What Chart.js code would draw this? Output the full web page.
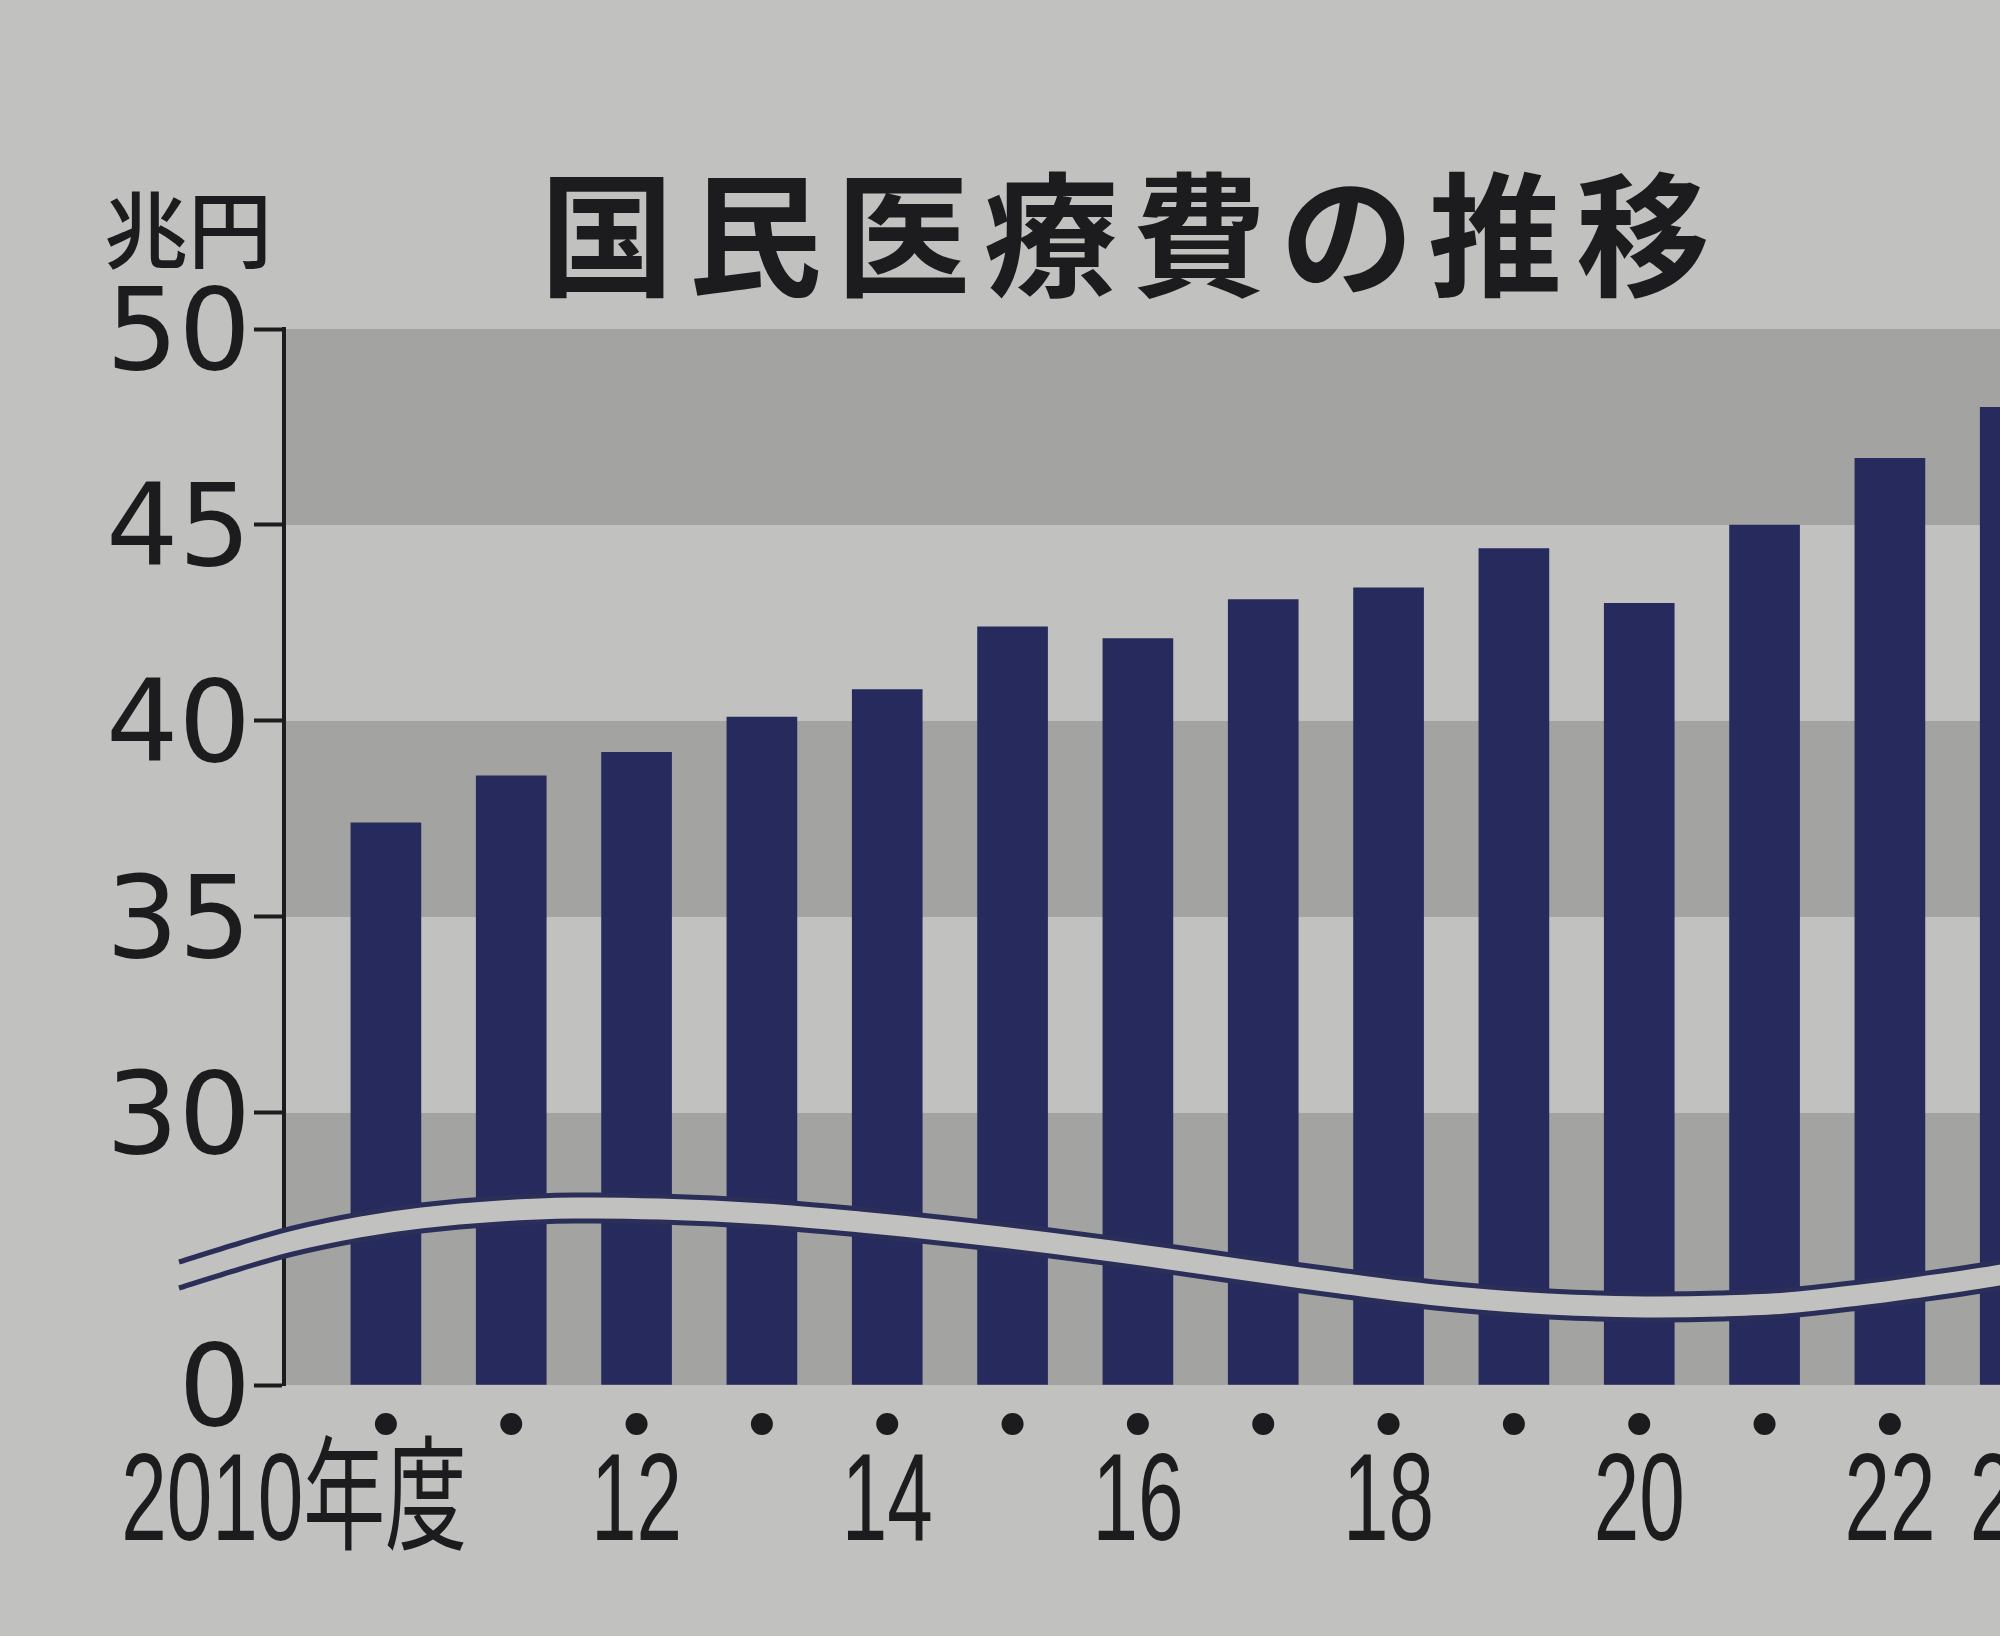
<!DOCTYPE html>
<html lang="ja">
<head>
<meta charset="utf-8">
<title>国民医療費の推移</title>
<script src="https://cdn.jsdelivr.net/npm/chart.js@4.4.1/dist/chart.umd.min.js"></script>
<style>
  html, body { margin: 0; padding: 0; background: #c1c1bf; overflow: hidden; }
  #wrap { width: 2000px; height: 1636px; overflow: hidden; }
  canvas { display: block; }
</style>
</head>
<body>
<div id="wrap"><canvas id="chart" width="2170" height="1636"></canvas></div>
<script>
// 国民医療費（兆円）、年度ごと
const years = [2010, 2011, 2012, 2013, 2014, 2015, 2016, 2017, 2018, 2019, 2020, 2021, 2022, 2023];
const costs = [37.4, 38.6, 39.2, 40.1, 40.8, 42.4, 42.1, 43.1, 43.4, 44.4, 43.0, 45.0, 46.7, 48.0];
const yearLabels = ['2010年度', '', '12', '', '14', '', '16', '', '18', '', '20', '', '22', '23'];

// y軸は 0〜30 を省略（波線）している
const yTickValues = [0, 30, 35, 40, 45, 50];
const yTickLabels = ['0', '30', '35', '40', '45', '50'];
const AXIS_BOTTOM = 23.06; // "0" を置く位置（省略後の目盛り値）

const PAPER = '#c1c1bf';
const BAND_DARK = '#a3a3a1';
const BAR_COLOR = '#262a5c';
const INK = '#1c1c1e';
const WAVE_LINE = '#2a2e58';

const darkBands = [[AXIS_BOTTOM, 30], [35, 40], [45, 50]];

// 省略を示す波線（上側の線）
const wavePoints = [
  [179, 1262], [240, 1243], [293, 1228], [360, 1214], [421, 1205], [500, 1198],
  [574, 1195], [660, 1196], [765, 1201], [860, 1209], [957, 1219], [1050, 1230],
  [1148, 1243], [1245, 1257], [1339, 1270], [1435, 1282], [1531, 1290], [1600, 1293],
  [1658, 1294], [1720, 1293], [1786, 1290], [1860, 1282], [1913, 1275], [2000, 1262], [2080, 1245]
];

function smoothPath(ctx, pts, dy) {
  ctx.moveTo(pts[0][0], pts[0][1] + dy);
  for (let i = 0; i < pts.length - 1; i++) {
    const p0 = pts[Math.max(i - 1, 0)], p1 = pts[i], p2 = pts[i + 1], p3 = pts[Math.min(i + 2, pts.length - 1)];
    ctx.bezierCurveTo(
      p1[0] + (p2[0] - p0[0]) / 6, p1[1] + (p2[1] - p0[1]) / 6 + dy,
      p2[0] - (p3[0] - p1[0]) / 6, p2[1] - (p3[1] - p1[1]) / 6 + dy,
      p2[0], p2[1] + dy
    );
  }
}

const paperBands = {
  id: 'paperBands',
  beforeDraw(chart) {
    const { ctx, chartArea: a, scales: { y } } = chart;
    ctx.save();
    ctx.fillStyle = PAPER;
    ctx.fillRect(0, 0, chart.width, chart.height);
    ctx.fillStyle = BAND_DARK;
    darkBands.forEach(([lo, hi]) => {
      const top = y.getPixelForValue(hi);
      const bot = y.getPixelForValue(lo);
      ctx.fillRect(a.left, top, a.right - a.left, bot - top);
    });
    ctx.restore();
  }
};

const breakWave = {
  id: 'breakWave',
  afterDatasetsDraw(chart) {
    const ctx = chart.ctx;
    ctx.save();
    ctx.lineCap = 'butt';
    ctx.beginPath();
    smoothPath(ctx, wavePoints, 13);
    ctx.strokeStyle = PAPER;
    ctx.lineWidth = 24;
    ctx.stroke();
    ctx.strokeStyle = WAVE_LINE;
    ctx.lineWidth = 5;
    ctx.beginPath();
    smoothPath(ctx, wavePoints, 0);
    ctx.stroke();
    ctx.beginPath();
    smoothPath(ctx, wavePoints, 26);
    ctx.stroke();
    ctx.restore();
  }
};

const texts = {
  id: 'texts',
  afterDraw(chart) {
    const { ctx, scales: { x } } = chart;
    ctx.save();
    ctx.fillStyle = INK;

    // 年度の点とラベル
    years.forEach((yr, i) => {
      const px = x.getPixelForValue(yr);
      ctx.beginPath();
      ctx.arc(px, 1424, 11, 0, Math.PI * 2);
      ctx.fill();
      const label = yearLabels[i];
      if (!label) return;
      ctx.save();
      ctx.translate(i === 0 ? px + 81 : px, 1540);
      ctx.scale(0.66, 1);
      ctx.font = '124px "Liberation Sans", "Noto Sans CJK JP"';
      ctx.textAlign = i === 0 ? 'right' : 'center';
      ctx.textBaseline = 'alphabetic';
      ctx.fillText(label, 0, 0);
      ctx.restore();
    });

    // 単位
    ctx.font = '500 84px "Noto Sans CJK JP"';
    ctx.textAlign = 'left';
    ctx.textBaseline = 'middle';
    ctx.fillText('兆円', 104, 230);

    // タイトル
    ctx.font = 'bold 134px "Noto Sans CJK JP"';
    ctx.letterSpacing = '14px';
    ctx.fillText('国民医療費の推移', 540, 235);
    ctx.restore();
  }
};

const ctx = document.getElementById('chart').getContext('2d');
new Chart(ctx, {
  type: 'bar',
  data: {
    datasets: [{
      data: years.map((yr, i) => ({ x: yr, y: costs[i] })),
      backgroundColor: BAR_COLOR,
      borderWidth: 0,
      barThickness: 70,
      base: AXIS_BOTTOM
    }]
  },
  options: {
    responsive: false,
    animation: false,
    devicePixelRatio: 1,
    layout: { padding: { top: 329, bottom: 251, left: 0, right: 7 } },
    plugins: {
      legend: { display: false },
      tooltip: { enabled: false }
    },
    scales: {
      x: {
        type: 'linear',
        display: false,
        offset: false,
        grid: { offset: false },
        bounds: 'data',
        min: 2009.187,
        max: 2024.179
      },
      y: {
        min: AXIS_BOTTOM,
        max: 50,
        afterBuildTicks: (scale) => {
          scale.ticks = yTickValues.map(v => ({ value: v === 0 ? AXIS_BOTTOM : v }));
        },
        afterFit: (scale) => { scale.width = 284; },
        grid: {
          drawOnChartArea: false,
          drawTicks: true,
          tickLength: 30,
          tickWidth: 4,
          tickColor: INK
        },
        border: { display: true, color: INK, width: 4 },
        ticks: {
          padding: 3,
          labelOffset: 10,
          color: INK,
          font: { family: 'DejaVu Sans', size: 114 },
          callback: (value, index) => yTickLabels[index]
        }
      }
    }
  },
  plugins: [paperBands, breakWave, texts]
});
</script>
</body>
</html>
